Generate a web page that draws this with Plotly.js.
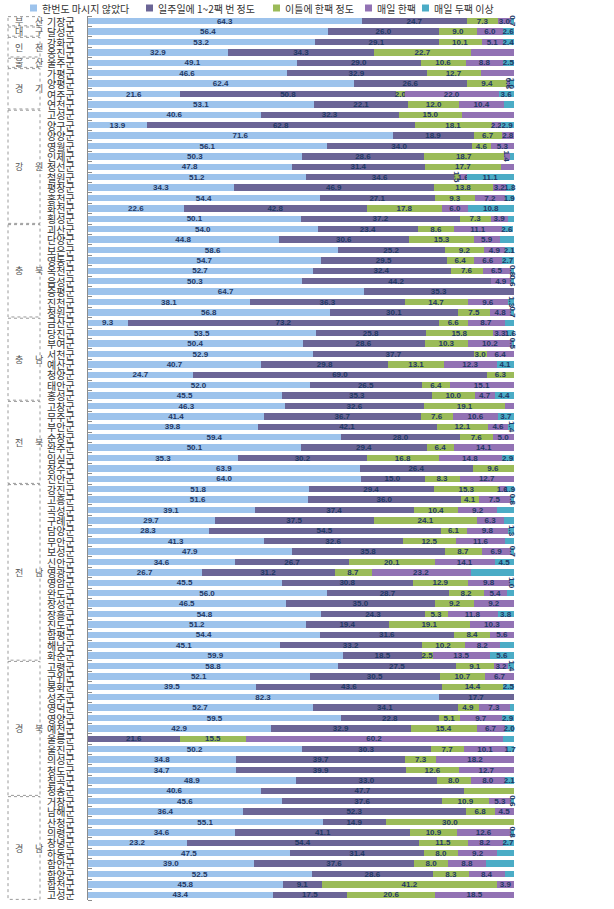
<!DOCTYPE html>
<html><head><meta charset="utf-8">
<script src="https://cdn.plot.ly/plotly-3.0.1.min.js"></script>
<style>html,body{margin:0;padding:0;background:#fff}#chart{width:614px;height:909px}</style>
</head><body><div id="chart"></div>
<script>
const seriesNames = ['한번도 마시지 않았다','일주일에 1~2팩 번 정도','이틀에 한팩 정도','매일 한팩','매일 두팩 이상'];
const seriesColors = ['#9DC3EC','#6B6596','#9BBB59','#9272B4','#4BACC6'];

const provinceNames = ['부 산','대 구','인 천','울 산','경 기','강 원','충 북','충 남','전 북','전 남','경 북','경 남'];
const provinceCounts = [1,1,2,1,4,11,9,8,8,17,13,10];

const counties = ['기장군','달성군','강화군','옹진군','울주군','가평군','양평군','여주군','연천군',
'고성군','양구군','양양군','영월군','인제군','정선군','철원군','평창군','홍천군','화천군','횡성군',
'괴산군','단양군','보은군','영동군','옥천군','음성군','증평군','진천군','청원군',
'금산군','당진군','부여군','서천군','예산군','청양군','태안군','홍성군',
'고창군','무주군','부안군','순창군','완주군','임실군','장수군','진안군',
'강진군','고흥군','곡성군','구례군','담양군','무안군','보성군','신안군','영광군','영암군','완도군','장성군','장흥군','진도군','함평군','해남군','화순군',
'고령군','군위군','봉화군','성주군','영덕군','영양군','예천군','울릉군','울진군','의성군','청도군','칠곡군','청송군',
'거창군','남해군','산청군','의령군','창녕군','하동군','함안군','함양군','합천군','고성군'];

const never = [64.3,56.4,53.2,32.9,49.1,46.6,62.4,21.6,53.1,
40.6,13.9,71.6,56.1,50.3,47.8,51.2,34.3,54.4,22.6,50.1,
54.0,44.8,58.6,54.7,52.7,50.3,64.7,38.1,56.8,
9.3,53.5,50.4,52.9,40.7,24.7,52.0,45.5,
46.3,41.4,39.8,59.4,50.1,35.3,63.9,64.0,
51.8,51.6,39.1,29.7,28.3,41.3,47.9,34.6,26.7,45.5,56.0,46.5,54.8,51.2,54.4,45.1,59.9,
58.8,52.1,39.5,82.3,52.7,59.5,42.9,0.0,50.2,34.8,34.7,48.9,40.6,
45.6,36.4,55.1,34.6,23.2,47.5,39.0,52.5,45.8,43.4];

const weekly = [24.7,26.0,29.1,34.3,29.0,32.9,26.6,50.8,22.1,
32.3,62.8,18.9,34.0,28.6,31.4,34.6,46.9,27.1,42.8,37.2,
23.4,30.6,25.2,29.5,32.4,44.2,35.3,36.3,30.1,
73.2,25.8,28.6,37.7,29.8,69.0,26.5,35.3,
32.6,36.7,42.1,28.0,29.4,30.2,26.4,15.0,
29.4,36.0,37.4,37.5,54.5,32.6,35.8,26.7,31.2,30.8,28.7,35.0,24.3,19.4,31.6,33.2,18.5,
27.5,30.5,43.6,17.7,34.1,22.8,32.9,21.6,30.3,39.7,39.9,33.0,47.7,
37.6,52.3,14.9,41.1,54.4,31.4,37.6,28.6,9.1,17.5];

const twoDays = [7.3,9.0,10.1,22.7,10.6,12.7,9.4,2.0,12.0,
15.0,18.1,6.7,4.6,18.7,17.7,1.5,13.8,9.3,17.8,7.3,
8.6,15.3,9.2,6.4,7.6,0.0,null,14.7,7.5,
6.6,15.8,10.3,3.0,13.1,6.3,6.4,10.0,
19.1,7.6,12.1,7.6,6.4,16.8,9.6,8.3,
15.3,4.1,10.4,24.1,6.1,12.5,8.7,20.1,8.7,12.9,8.2,9.2,5.3,19.1,8.4,10.2,2.5,
9.1,10.7,14.4,null,4.9,5.1,15.4,15.5,7.7,7.3,12.6,8.0,11.7,
10.9,6.8,30.0,10.9,11.5,8.0,8.0,8.3,41.2,20.6];

const dailyOne = [3.0,6.0,5.1,10.2,8.8,7.9,0.6,22.0,10.4,
12.2,2.2,2.8,5.3,1.4,3.2,1.6,3.2,7.2,6.0,3.9,
11.1,5.9,4.9,6.6,6.5,4.9,null,9.6,4.8,
8.7,3.3,10.2,6.4,12.3,0.0,15.1,4.7,
2.1,10.6,4.6,5.0,14.1,14.8,0.0,12.7,
1.6,7.5,9.2,6.3,9.8,11.6,6.9,14.1,23.2,9.8,5.4,9.2,11.8,10.3,5.6,8.2,13.5,
3.2,6.7,0.0,null,7.3,9.7,6.7,60.2,10.1,18.2,12.7,8.0,null,
5.3,4.5,null,12.6,8.2,9.2,8.8,8.4,3.9,18.5];

const dailyTwo = [0.7,2.6,2.4,null,2.5,null,1.0,3.6,2.5,
null,2.9,0.0,0.0,1.0,null,11.1,1.8,1.9,10.8,1.5,
2.6,3.5,2.1,2.7,0.8,0.6,0.0,1.3,0.7,
2.3,1.6,0.5,0.0,4.1,0.0,0.0,4.4,
null,3.7,1.4,0.0,0.0,2.9,0.0,0.0,
1.9,0.8,3.9,2.5,1.3,2.1,0.7,4.5,10.3,1.0,1.7,0.0,3.8,0.0,0.0,3.3,5.6,
1.4,0.0,2.5,0.0,1.1,2.9,2.0,2.7,1.7,0.0,0.0,2.1,null,
0.6,0.0,0.0,0.8,2.7,3.9,6.7,2.3,0.0,0.0];

const seriesValues = [never, weekly, twoDays, dailyOne, dailyTwo];
const rowIdx = counties.map((_, i) => i);

const traces = seriesValues.map((vals, k) => ({
  type: 'bar', orientation: 'h', name: seriesNames[k],
  x: vals, y: rowIdx,
  marker: {color: seriesColors[k], line: {width: 0}},
  texttemplate: '%{x:.1f}', textposition: 'inside', insidetextanchor: 'middle',
  textfont: {family: 'Liberation Sans, Arial, sans-serif', size: 8, color: '#1F3864', weight: 'bold'},
  cliponaxis: false, hoverinfo: 'skip', showlegend: false
}));

const PL = 88, PW = 426, PT = 16, PH = 884;
const px = v => (v - PL) / PW;
const py = v => 1 - (v - PT) / PH;

const shapes = [], annotations = [];
// county labels
counties.forEach((c, i) => {
  annotations.push({xref: 'paper', yref: 'y', x: px(77), xanchor: 'right', y: i,
    text: c, showarrow: false, font: {family: 'Noto Sans CJK KR', size: 10, color: '#333'}});
});
// province boxes and labels
let start = 0;
provinceNames.forEach((p, j) => {
  const end = start + provinceCounts[j] - 1;
  shapes.push({type: 'rect', xref: 'paper', yref: 'y', x0: px(8), x1: px(40),
    y0: start - 0.44, y1: end + 0.44,
    line: {color: '#9a9a9a', width: 1, dash: 'dot'}, fillcolor: 'rgba(0,0,0,0)'});
  const parts = p.split(' ');
  [13, 33].forEach((cx, m) => {
    annotations.push({xref: 'paper', yref: 'y', x: px(cx), y: (start + end) / 2,
      text: parts[m], showarrow: false,
      font: {family: 'Noto Sans CJK KR', size: 9, color: '#555'}});
  });
  start = end + 1;
});
// legend (drawn manually to match compact layout)
const legendLeft = [30, 146, 273, 365, 422];
seriesNames.forEach((n, k) => {
  shapes.push({type: 'rect', xref: 'paper', yref: 'paper', x0: px(legendLeft[k]), x1: px(legendLeft[k] + 7),
    y0: py(11.5), y1: py(4.5), line: {width: 0}, fillcolor: seriesColors[k]});
  annotations.push({xref: 'paper', yref: 'paper', x: px(legendLeft[k] + 10), xanchor: 'left',
    y: py(8), yanchor: 'middle', text: n, showarrow: false,
    font: {family: 'Noto Sans CJK KR', size: 10, color: '#333'}});
});

const layout = {
  width: 614, height: 909,
  margin: {l: PL, r: 614 - PL - PW, t: PT, b: 909 - PT - PH, autoexpand: false},
  barmode: 'stack', bargap: 0.38,
  paper_bgcolor: '#fff', plot_bgcolor: '#fff',
  showlegend: false,
  uniformtext: {mode: 'show', minsize: 8},
  xaxis: {range: [0, 100], visible: false, fixedrange: true},
  yaxis: {range: [counties.length - 0.5, -0.5], tickmode: 'array', tickvals: rowIdx,
    showticklabels: false, ticks: '', showline: true, linecolor: '#8c8c8c', linewidth: 1,
    showgrid: false, zeroline: false, automargin: false,
    minor: {tick0: 0.5, dtick: 1, ticks: 'inside', ticklen: 4, tickcolor: '#8c8c8c', showgrid: false}},
  shapes: shapes, annotations: annotations
};

Plotly.newPlot('chart', traces, layout, {displayModeBar: false, staticPlot: true});
</script></body></html>
